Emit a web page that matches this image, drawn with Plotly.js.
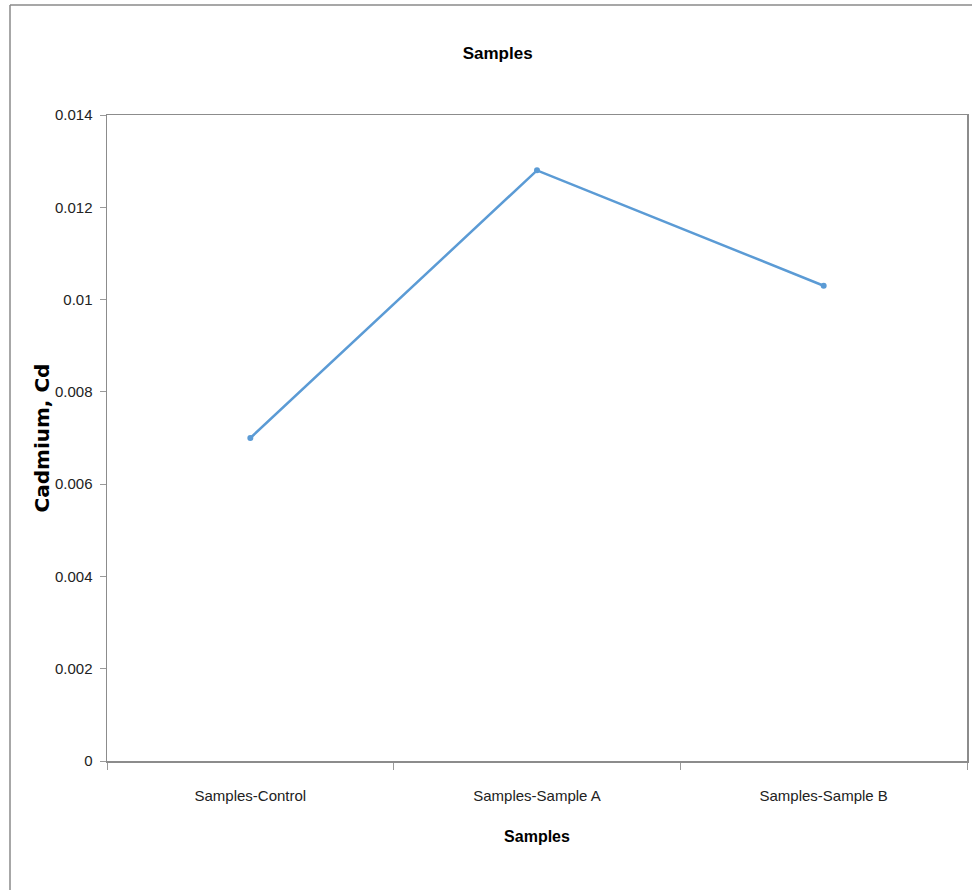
<!DOCTYPE html>
<html>
<head>
<meta charset="utf-8">
<script src="https://cdn.plot.ly/plotly-3.0.1.min.js"></script>
<style>
  html, body { margin: 0; padding: 0; background: #ffffff; }
  #chart { width: 972px; height: 890px; }
</style>
</head>
<body>
<div id="chart"></div>
<script>
const categories = ["Samples-Control", "Samples-Sample A", "Samples-Sample B"];
const cadmium = [0.0070, 0.0128, 0.0103];
const yTickValues = [0, 0.002, 0.004, 0.006, 0.008, 0.01, 0.012, 0.014];
const yTickLabels = ["0", "0.002", "0.004", "0.006", "0.008", "0.01", "0.012", "0.014"];

const W = 972, H = 890;
const mL = 107, mR = 5, mT = 115, mB = 129;
const pw = W - mL - mR, ph = H - mT - mB;
const px = (x) => (x - mL) / pw;          // page px -> paper x
const py = (y) => (H - mB - y) / ph;      // page px -> paper y

const narrow = "'Liberation Sans Narrow', 'Arial Narrow', 'Liberation Sans', Arial, sans-serif";

const trace = {
  type: "scatter",
  mode: "lines+markers",
  x: categories,
  y: cadmium,
  line: { color: "#5B9BD5", width: 2.5 },
  marker: { color: "#5B9BD5", size: 6, symbol: "circle" },
  showlegend: false,
  hoverinfo: "x+y"
};

const layout = {
  width: W,
  height: H,
  margin: { l: mL, r: mR, t: mT, b: mB, pad: 0 },
  paper_bgcolor: "#ffffff",
  plot_bgcolor: "#ffffff",
  showlegend: false,
  title: {
    text: "<b>Samples</b>",
    font: { family: narrow, size: 17, color: "#000000" },
    xref: "container", x: 0.512, xanchor: "center",
    yref: "container", y: 1 - 53 / H, yanchor: "middle"
  },
  xaxis: {
    type: "category",
    range: [-0.5, 2.5],
    tickson: "boundaries",
    ticks: "outside",
    ticklen: 7,
    tickwidth: 1,
    tickcolor: "#9a9a9a",
    showline: true,
    linecolor: "#8c8c8c",
    linewidth: 1.5,
    mirror: true,
    showgrid: false,
    zeroline: false,
    ticklabelstandoff: 20,
    tickfont: { family: narrow, size: 15, color: "#222222" },
    title: {
      text: "<b>Samples</b>",
      font: { family: narrow, size: 16, color: "#000000" },
      standoff: 28
    },
    automargin: false
  },
  yaxis: {
    range: [0, 0.014],
    tickmode: "array",
    tickvals: yTickValues,
    ticktext: yTickLabels,
    ticks: "outside",
    ticklen: 6,
    tickwidth: 1,
    tickcolor: "#9a9a9a",
    showline: true,
    linecolor: "#8c8c8c",
    linewidth: 1.5,
    mirror: true,
    showgrid: false,
    zeroline: false,
    ticklabelstandoff: 4,
    tickfont: { family: narrow, size: 15, color: "#222222" },
    title: {
      text: "<b>Cadmium, Cd</b>",
      font: { family: "'DejaVu Sans', Verdana, sans-serif", size: 20, color: "#000000" },
      standoff: 0
    },
    automargin: false
  },
  shapes: [
    { type: "line", xref: "paper", yref: "paper",
      x0: px(10), x1: px(10), y0: py(5), y1: py(H + 5),
      line: { color: "#8a8a8a", width: 1.5 } },
    { type: "line", xref: "paper", yref: "paper",
      x0: px(10), x1: px(W + 5), y0: py(5), y1: py(5),
      line: { color: "#8a8a8a", width: 1.5 } }
  ]
};

Plotly.newPlot("chart", [trace], layout, { displayModeBar: false, staticPlot: true });
</script>
</body>
</html>
